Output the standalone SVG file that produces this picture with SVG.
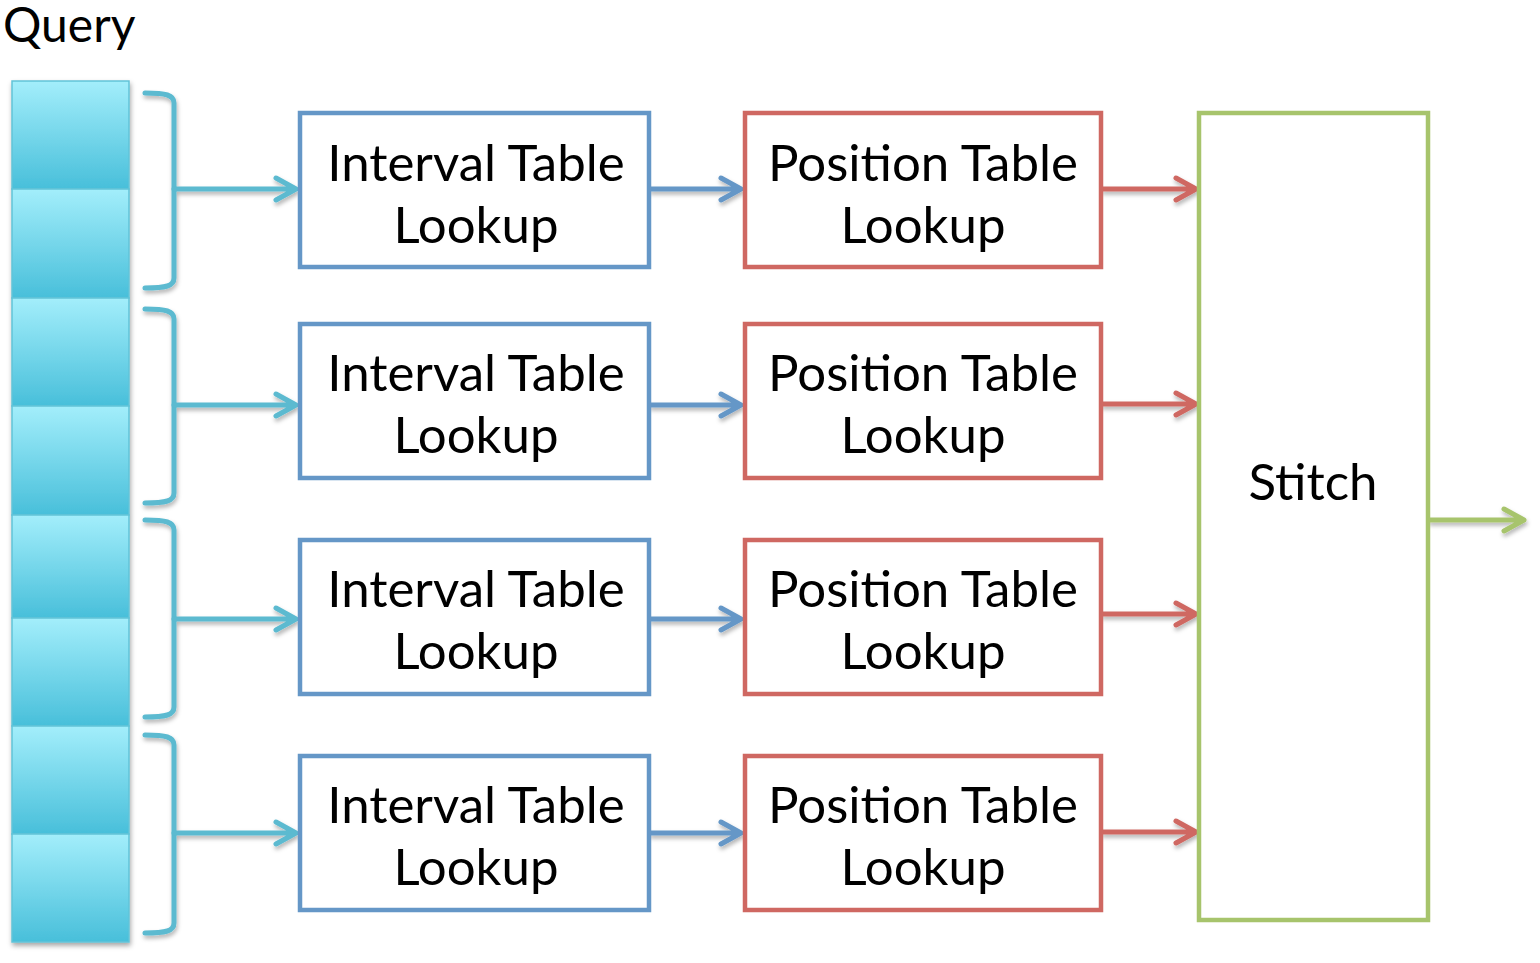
<svg xmlns="http://www.w3.org/2000/svg" width="1540" height="963" viewBox="0 0 1540 963">
<defs>
<linearGradient id="cell" x1="0" y1="0" x2="0" y2="1">
<stop offset="0" stop-color="#a3eefb"/>
<stop offset="1" stop-color="#48bfda"/>
</linearGradient>
<filter id="sh" x="-20%" y="-50%" width="140%" height="200%">
<feDropShadow dx="1" dy="3" stdDeviation="2" flood-color="#000" flood-opacity="0.3"/>
</filter>
<filter id="csh" x="-20%" y="-20%" width="140%" height="140%">
<feDropShadow dx="1" dy="3" stdDeviation="2.5" flood-color="#000" flood-opacity="0.35"/>
</filter>
</defs>
<style>
.cell{fill:url(#cell);stroke:#62c3d8;stroke-width:1.5}
.brace{fill:none;stroke:#5bbad0;stroke-width:5;stroke-linecap:round;stroke-linejoin:round}
.ib{fill:#fff;stroke:#6597c7;stroke-width:4.5}
.pb{fill:#fff;stroke:#cf6862;stroke-width:4.5}
.sb{fill:#fff;stroke:#a7c46c;stroke-width:4.5}
.a{fill:none;stroke-width:5;stroke-linecap:round;stroke-linejoin:round}
.at{stroke:#5bbad0}
.ab{stroke:#6597c7}
.ar{stroke:#cf6862}
.ag{stroke:#a7c46c}
text{font-family:"Lato","Open Sans","Liberation Sans",sans-serif;font-size:51px;fill:#000;text-anchor:middle}
</style>
<rect width="1540" height="963" fill="#fff"/>
<text x="3" y="42" style="text-anchor:start;font-size:48px">Query</text>
<g id="query" filter="url(#csh)">
<rect class="cell" x="12" y="81" width="117" height="108"/>
<rect class="cell" x="12" y="189" width="117" height="109"/>
<rect class="cell" x="12" y="298" width="117" height="108"/>
<rect class="cell" x="12" y="406" width="117" height="109"/>
<rect class="cell" x="12" y="515" width="117" height="103"/>
<rect class="cell" x="12" y="618" width="117" height="108"/>
<rect class="cell" x="12" y="726" width="117" height="108"/>
<rect class="cell" x="12" y="834" width="117" height="108"/>
</g>
<g id="connectors">
<g filter="url(#sh)">
<path class="brace" d="M145,93 C166,93 174,95 174,103 L174,278 C174,286 166,288 145,288"/>
<path class="brace" d="M145,309 C166,309 174,311 174,319 L174,493 C174,501 166,503 145,503"/>
<path class="brace" d="M145,520 C166,520 174,522 174,530 L174,707 C174,715 166,717 145,717"/>
<path class="brace" d="M145,735 C166,735 174,737 174,745 L174,923 C174,931 166,933 145,933"/>
<path class="a at" d="M174,189 L296,189 M276,178 L296,189 L276,200"/>
<path class="a at" d="M174,405 L296,405 M276,394 L296,405 L276,416"/>
<path class="a at" d="M174,619 L296,619 M276,608 L296,619 L276,630"/>
<path class="a at" d="M174,833 L296,833 M276,822 L296,833 L276,844"/>
<path class="a ab" d="M651,189 L741,189 M721,178 L741,189 L721,200"/>
<path class="a ab" d="M651,405 L741,405 M721,394 L741,405 L721,416"/>
<path class="a ab" d="M651,619 L741,619 M721,608 L741,619 L721,630"/>
<path class="a ab" d="M651,833 L741,833 M721,822 L741,833 L721,844"/>
<path class="a ar" d="M1103,189 L1196,189 M1176,178 L1196,189 L1176,200"/>
<path class="a ar" d="M1103,404 L1196,404 M1176,393 L1196,404 L1176,415"/>
<path class="a ar" d="M1103,614 L1196,614 M1176,603 L1196,614 L1176,625"/>
<path class="a ar" d="M1103,832 L1196,832 M1176,821 L1196,832 L1176,843"/>
<path class="a ag" d="M1430,520 L1524,520 M1504,509 L1524,520 L1504,531"/>
</g>
</g>
<g id="interval1"><rect class="ib" x="300" y="113" width="349" height="154"/><text x="476" y="181">Interval Table</text><text x="476" y="243">Lookup</text></g>
<g id="interval2"><rect class="ib" x="300" y="324" width="349" height="154"/><text x="476" y="391">Interval Table</text><text x="476" y="453">Lookup</text></g>
<g id="interval3"><rect class="ib" x="300" y="540" width="349" height="154"/><text x="476" y="607">Interval Table</text><text x="476" y="669">Lookup</text></g>
<g id="interval4"><rect class="ib" x="300" y="756" width="349" height="154"/><text x="476" y="823">Interval Table</text><text x="476" y="885">Lookup</text></g>
<g id="position1"><rect class="pb" x="745" y="113" width="356" height="154"/><text x="923" y="181">Position Table</text><text x="923" y="243">Lookup</text></g>
<g id="position2"><rect class="pb" x="745" y="324" width="356" height="154"/><text x="923" y="391">Position Table</text><text x="923" y="453">Lookup</text></g>
<g id="position3"><rect class="pb" x="745" y="540" width="356" height="154"/><text x="923" y="607">Position Table</text><text x="923" y="669">Lookup</text></g>
<g id="position4"><rect class="pb" x="745" y="756" width="356" height="154"/><text x="923" y="823">Position Table</text><text x="923" y="885">Lookup</text></g>
<g id="stitch"><rect class="sb" x="1199" y="113" width="229" height="807"/><text x="1313" y="500">Stitch</text></g>
</svg>
